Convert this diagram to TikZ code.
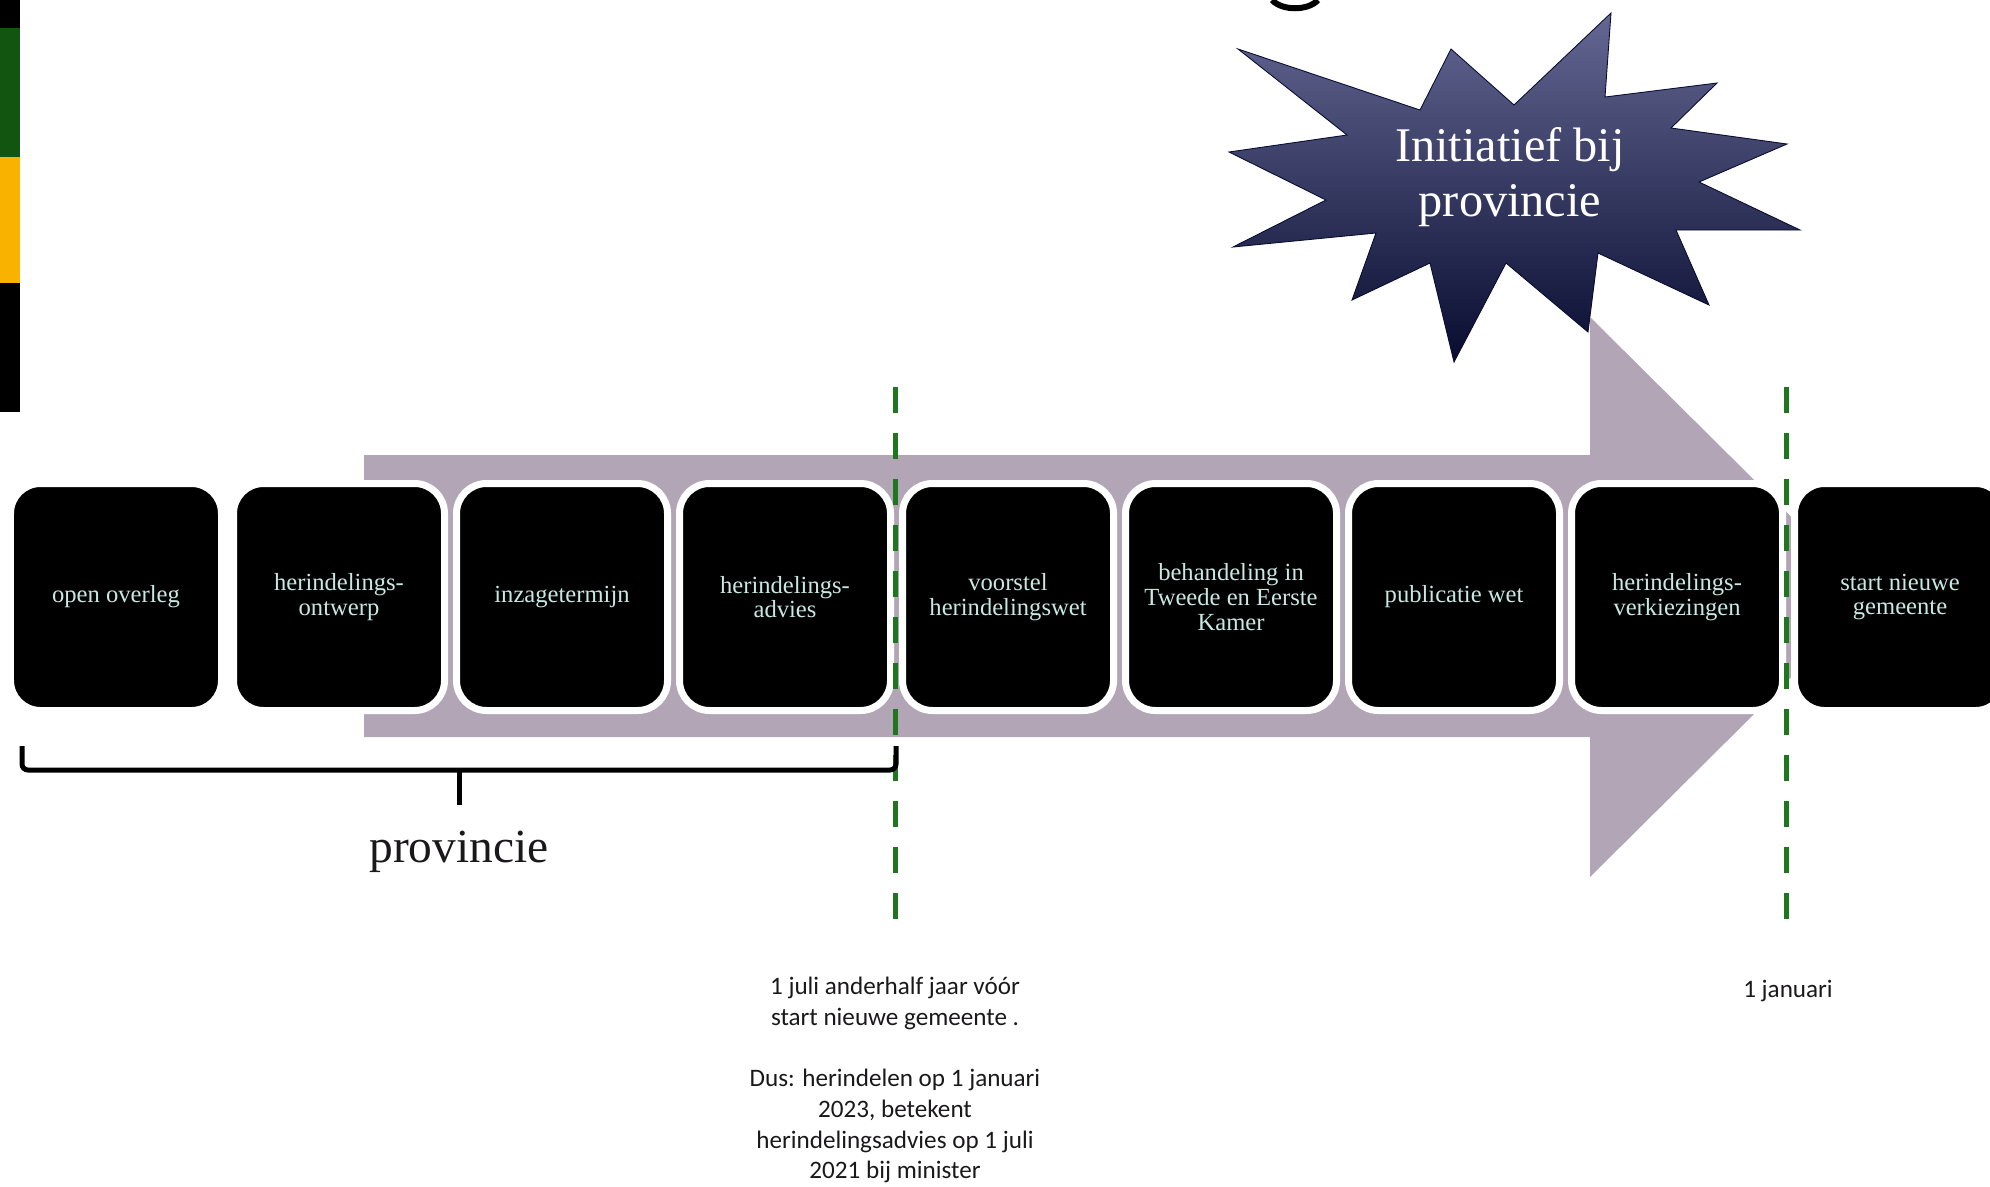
\documentclass[tikz,border=0pt]{standalone}
\usepackage{fontspec}
\setmainfont{Liberation Serif}
\newfontfamily\calibri{Carlito}
\usetikzlibrary{positioning}

\definecolor{pijlgrijs}{RGB}{178,166,182}
\definecolor{lijngroen}{RGB}{30,118,30}
\definecolor{staptekst}{RGB}{200,232,226}
\definecolor{stertop}{RGB}{100,103,146}
\definecolor{sterbodem}{RGB}{8,12,48}
\definecolor{balkgroen}{RGB}{17,85,17}
\definecolor{balkoranje}{RGB}{250,178,0}
\definecolor{notekst}{RGB}{26,24,26}

\tikzset{
  stap/.style={rectangle, rounded corners=6mm, fill=black, draw=white,
    line width=1.4mm, minimum width=42.2mm, minimum height=45.4mm,
    inner sep=0pt, align=center, text=staptekst,
    font=\fontsize{14}{14}\selectfont},
  grens/.style={draw=lijngroen, line width=1mm, dash pattern=on 5.2mm off 4mm},
  noot/.style={align=center, inner sep=0pt, text=notekst,
    font=\calibri\fontsize{14.3}{17.5}\selectfont}
}

\begin{document}
\begin{tikzpicture}[x=0.2mm,y=-0.2mm]
    \useasboundingbox (0,0) rectangle (1990,1186);
    % kleurbalk links
    \fill [black] (0,0) rectangle (20,28);
    \fill [balkgroen] (0,28) rectangle (20,157);
    \fill [balkoranje] (0,157) rectangle (20,283);
    \fill [black] (0,283) rectangle (20,412);
    \draw [black, line width=1.2mm] (1272,0) .. controls (1282,11) and (1308,11) .. (1318,0);
    % ster
    \shade [top color=stertop, bottom color=sterbodem, draw=sterbodem, line width=0.5pt]
      (1238,49) -- (1420,110) -- (1451,49) -- (1514,105) -- (1611,13) -- (1605,97)
      -- (1717,83) -- (1671,128) -- (1787,144) -- (1699,182) -- (1800,230)
      -- (1676,230) -- (1709,305) -- (1598,253) -- (1588,332) -- (1506,263)
      -- (1454,362) -- (1430,263) -- (1352,300) -- (1376,233) -- (1233,247)
      -- (1326,200) -- (1229,152) -- (1347,135) -- cycle;
    \node [align=center, text=white, font=\fontsize{27.5}{31}\selectfont] (ster) at (1510,177) {Initiatief bij\\provincie};
    % pijl
    \fill [pijlgrijs] (364,455) -- (1590,455) -- (1590,317) -- (1872,597)
      -- (1590,877) -- (1590,737) -- (364,737) -- cycle;
    % stappen
    \node [stap] (b0) at (116,597) {open overleg};
    \node [stap, right=1mm of b0] (b1) {herindelings-\\ontwerp};
    \node [stap, right=1mm of b1] (b2) {inzagetermijn};
    \node [stap, right=1mm of b2] (b3) {herindelings-\\advies};
    \node [stap, right=1mm of b3] (b4) {voorstel\\herindelingswet};
    \node [stap, right=1mm of b4] (b5) {behandeling in\\Tweede en Eerste\\Kamer};
    \node [stap, right=1mm of b5] (b6) {publicatie wet};
    \node [stap, right=1mm of b6] (b7) {herindelings-\\verkiezingen};
    \node [stap, right=1mm of b7] (b8) {start nieuwe\\gemeente};
    % peildata
    \coordinate (juli top) at (895,387);
    \coordinate (juli bodem) at (895,939);
    \coordinate (jan top) at (1786,387);
    \coordinate (jan bodem) at (1786,939);
    \draw [grens] (juli top) -- (juli bodem);
    \draw [grens] (jan top) -- (jan bodem);
    % accolade provincie
    \coordinate (acc links) at (22,746);
    \coordinate (acc punt) at (459,805);
    \coordinate (acc rechts) at (896,746);
    \draw [black, line width=1mm, rounded corners=1.2mm] (acc links) |- (459,770) -| (acc rechts);
    \draw [black, line width=1mm] (459,770) -- (acc punt);
    \node [text=notekst, font=\fontsize{27}{30}\selectfont] (prov) at (459,852) {provincie};
    \node [noot] (uitleg) at (895,1080) {1 juli anderhalf jaar vóór\\start nieuwe gemeente .\\[17.5pt]Dus: herindelen op 1 januari\\2023, betekent\\herindelingsadvies op 1 juli\\2021 bij minister};
    \node [noot] (januari) at (1788,991) {1 januari};
\end{tikzpicture}
\end{document}
